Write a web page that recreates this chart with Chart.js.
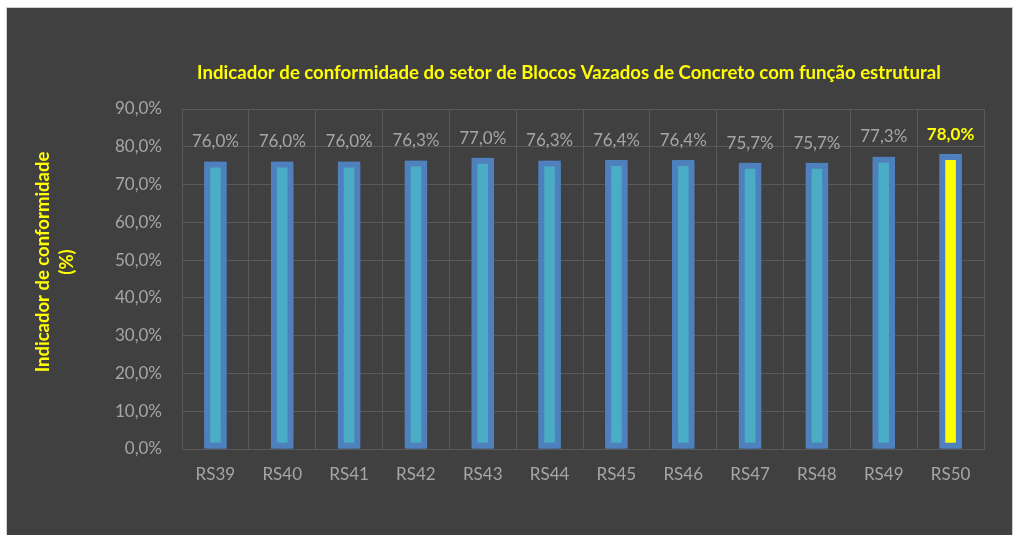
<!DOCTYPE html>
<html>
<head>
<meta charset="utf-8">
<script src="https://cdn.jsdelivr.net/npm/chart.js@4/dist/chart.umd.min.js"></script>
<style>
  html, body { margin: 0; padding: 0; background: #ffffff; }
  #frame { position: absolute; left: 6px; top: 7px; width: 1005px; height: 528px;
           background: #404040; border-left: 1px solid #cfcfcf; border-top: 1px solid #cfcfcf; border-right: 1px solid #cfcfcf; }
  canvas { display: block; }
</style>
</head>
<body>
<div id="frame"><canvas id="c" width="1005" height="527"></canvas></div>
<script>
const categories = ['RS39','RS40','RS41','RS42','RS43','RS44','RS45','RS46','RS47','RS48','RS49','RS50'];
const values = [76.0, 76.0, 76.0, 76.3, 77.0, 76.3, 76.4, 76.4, 75.7, 75.7, 77.3, 78.0];
const highlightIndex = 11;
const yMin = 0, yMax = 90, yStep = 10;
const chartTitle = 'Indicador de conformidade do setor de Blocos Vazados de Concreto com função estrutural';
const yTitle = ['Indicador de conformidade', '(%)'];

const FONT = 'Lato, "Open Sans", sans-serif';
const fmt = v => v.toFixed(1).replace('.', ',') + '%';

const glow = {
  id: 'glow',
  beforeDatasetDraw(chart) {
    const ctx = chart.ctx;
    ctx.save();
    ctx.shadowColor = 'rgba(79,129,189,1)';
    ctx.shadowBlur = 14;
  },
  afterDatasetDraw(chart) { chart.ctx.restore(); }
};

const labels = {
  id: 'valueLabels',
  afterDatasetsDraw(chart) {
    const ctx = chart.ctx;
    const meta = chart.getDatasetMeta(0);
    ctx.save();
    ctx.textAlign = 'center';
    ctx.textBaseline = 'middle';
    meta.data.forEach((bar, i) => {
      const hi = i === highlightIndex;
      ctx.font = (hi ? 'bold ' : '') + '17px ' + FONT;
      ctx.fillStyle = hi ? '#ffff00' : '#a6a6a6';
      ctx.fillText(fmt(values[i]), bar.x, bar.y - 20);
    });
    ctx.restore();
  }
};

// Chart title and rotated axis title drawn at the reference positions
const titles = {
  id: 'titles',
  afterDraw(chart) {
    const ctx = chart.ctx;
    ctx.save();
    ctx.font = 'bold 18.6px ' + FONT;
    ctx.fillStyle = '#ffff00';
    ctx.textAlign = 'center';
    ctx.textBaseline = 'middle';
    ctx.fillText(chartTitle, 562, 65);
    ctx.restore();

    ctx.save();
    ctx.font = 'bold 18.5px ' + FONT;
    ctx.fillStyle = '#ffff00';
    ctx.textAlign = 'center';
    ctx.textBaseline = 'middle';
    ctx.translate(36, 254);
    ctx.rotate(-Math.PI / 2);
    yTitle.forEach((t, i) => ctx.fillText(t, 0, i * 24.5));
    ctx.restore();
  }
};

new Chart(document.getElementById('c'), {
  type: 'bar',
  data: {
    labels: categories,
    datasets: [{
      data: values,
      backgroundColor: values.map((v, i) => i === highlightIndex ? '#ffff00' : '#4bacc6'),
      borderColor: '#4f81bd',
      borderWidth: 6,
      borderSkipped: false,
      barThickness: 22
    }]
  },
  options: {
    responsive: false,
    animation: false,
    devicePixelRatio: 1,
    layout: { padding: { left: 0, right: 28, top: 101, bottom: 0 } },
    plugins: {
      legend: { display: false },
      tooltip: { enabled: false },
      title: { display: false }
    },
    scales: {
      x: {
        grid: { color: '#595959', lineWidth: 1, drawTicks: false, offset: true },
        border: { color: '#595959' },
        ticks: { color: '#a6a6a6', font: { family: FONT, size: 17 }, padding: 15 },
        afterFit(s) { s.height = 86; }
      },
      y: {
        min: yMin, max: yMax,
        ticks: { stepSize: yStep, color: '#a6a6a6', font: { family: FONT, size: 17 }, padding: 20,
                 callback: v => fmt(v) },
        grid: { color: '#595959', lineWidth: 1, drawTicks: false },
        border: { color: '#595959' },
        afterFit(s) { s.width = 175; }
      }
    }
  },
  plugins: [glow, labels, titles]
});
</script>
</body>
</html>
